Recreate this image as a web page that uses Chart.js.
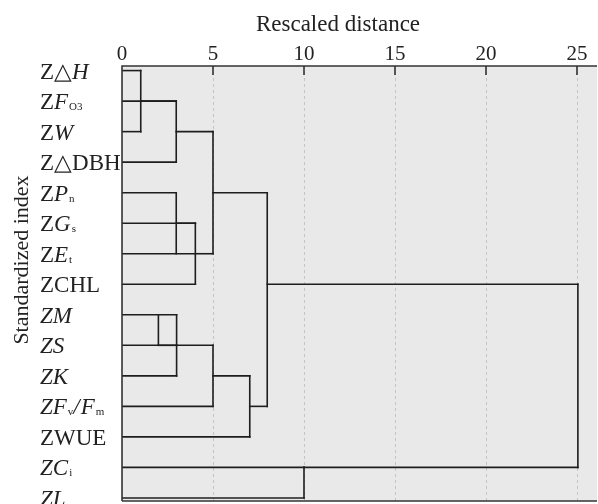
<!DOCTYPE html>
<html><head><meta charset="utf-8">
<script src="https://cdn.jsdelivr.net/npm/chart.js@4.4.0/dist/chart.umd.min.js"></script>
<style>html,body{margin:0;padding:0;background:#fff}#wrap{width:598px;height:504px;position:relative}</style>
</head><body><div id="wrap"><canvas id="c"></canvas></div>
<script>
// ---- data ----
const leafNames = ['ZΔH','ZFO3','ZW','ZΔDBH','ZPn','ZGs','ZEt','ZCHL','ZM','ZS','ZK','ZFv/Fm','ZWUE','ZCi','ZL'];
// distance at which each leaf's horizontal line ends (first join)
const leafEnd = [1.03, 2.98, 1.03, 2.98, 2.98, 4.03, 4.03, 4.03, 3.0, 3.0, 3.0, 5.0, 7.02, 10.0, 10.0];
// merges (rescaled distance of each join, rows spanned, row of outgoing stem, distance where stem joins parent)
const mergeHeight  = [1.03, 2.98, 2.98, 4.03, 5.0, 2.0, 3.0, 5.0, 7.02, 7.98, 10.0, 25.05];
const mergeTop     = [0, 1, 4, 5, 2, 8, 8, 9, 10, 4, 13, 7];
const mergeBottom  = [2, 3, 6, 7, 6, 9, 10, 11, 12, 11, 14, 13];
const mergeStemRow = [1, 2, 5, 6, 4, 9, 9, 10, 11, 7, 13, null];
const mergeStemTo  = [2.98, 5.0, 4.03, 5.0, 7.98, 3.0, 5.0, 7.02, 7.98, 25.05, 25.05, null];
const xTicks = [0, 5, 10, 15, 20, 25];
const xTitle = 'Rescaled distance';
const yTitle = 'Standardized index';
// rich-text label parts: r = regular, i = italic, s = subscript
const labelParts = [
  [['Z','r'],['△','r'],['H','i']],
  [['Z','r'],['F','i'],['O3','s']],
  [['Z','r'],['W','i']],
  [['Z△DBH','r']],
  [['Z','r'],['P','i'],['n','s']],
  [['Z','r'],['G','i'],['s','s']],
  [['Z','r'],['E','i'],['t','s']],
  [['ZCHL','r']],
  [['ZM','i']],
  [['ZS','i']],
  [['ZK','i']],
  [['ZF','i'],['v','s'],['/','i'],['F','i'],['m','s']],
  [['ZWUE','r']],
  [['ZC','i'],['i','s']],
  [['ZL','i']]
];

// ---- build datasets ----
const LINE = '#1e1e1e';
const LW = 1.6;
function seg(p1, p2){
  return {data:[p1,p2], showLine:true, borderColor:LINE, borderWidth:LW, pointRadius:0,
          pointHoverRadius:0, borderCapStyle:'square', fill:false, tension:0};
}
const datasets = [];
leafNames.forEach((n,i)=>{ datasets.push(seg({x:0,y:i},{x:leafEnd[i],y:i})); });
mergeHeight.forEach((h,k)=>{
  datasets.push(seg({x:h,y:mergeTop[k]},{x:h,y:mergeBottom[k]}));
  if (mergeStemRow[k] !== null) datasets.push(seg({x:h,y:mergeStemRow[k]},{x:mergeStemTo[k],y:mergeStemRow[k]}));
});

const SERIF = '"Liberation Serif", "Times New Roman", serif';
const LF = 23;
const deco = {
  id:'deco',
  beforeDraw(chart){
    const {ctx, chartArea:a} = chart;
    ctx.save(); ctx.fillStyle = '#e9e9e9';
    ctx.fillRect(a.left, a.top, a.right-a.left, a.bottom-a.top);
    const xs = chart.scales.x;
    ctx.strokeStyle = '#c4c4c4'; ctx.lineWidth = 1; ctx.setLineDash([3,3]);
    xTicks.forEach(v=>{ if (v===0) return; const px = Math.round(xs.getPixelForValue(v))+0.5;
      ctx.beginPath(); ctx.moveTo(px, a.top); ctx.lineTo(px, a.bottom); ctx.stroke(); });
    ctx.restore();
  },
  afterDraw(chart){
    const {ctx, chartArea:a} = chart;
    const xs = chart.scales.x, ys = chart.scales.y;
    ctx.save();
    ctx.strokeStyle = '#333'; ctx.lineWidth = 1.6; ctx.setLineDash([]);
    ctx.beginPath(); ctx.moveTo(a.left, a.bottom); ctx.lineTo(a.left, a.top); ctx.lineTo(a.right, a.top); ctx.stroke();
    ctx.beginPath(); ctx.moveTo(a.left, a.bottom); ctx.lineTo(a.right, a.bottom); ctx.stroke();
    xTicks.forEach(v=>{ if (v===0) return; const px = xs.getPixelForValue(v);
      ctx.beginPath(); ctx.moveTo(px, a.top); ctx.lineTo(px, a.top+9); ctx.stroke(); });
    ctx.fillStyle = '#222';
    ctx.font = LF + 'px ' + SERIF; ctx.textAlign = 'center'; ctx.textBaseline = 'middle';
    ctx.fillText(xTitle, 338, 25);
    ctx.font = '22px ' + SERIF;
    ctx.save(); ctx.translate(22, 260); ctx.rotate(-Math.PI/2); ctx.fillText(yTitle, 0, 0); ctx.restore();
    ctx.textAlign = 'left'; ctx.textBaseline = 'alphabetic';
    labelParts.forEach((parts, i)=>{
      const base = ys.getPixelForValue(i) + 8;
      let x = 40;
      parts.forEach(([t, st])=>{
        let yOff = 0;
        if (st === 'i') ctx.font = 'italic ' + LF + 'px ' + SERIF;
        else if (st === 's') { ctx.font = '11px ' + SERIF; yOff = 1; }
        else ctx.font = LF + 'px ' + SERIF;
        ctx.fillText(t, x, base + yOff);
        x += ctx.measureText(t).width + (st === 'i' ? 1 : 0);
      });
    });
    ctx.restore();
  }
};

new Chart(document.getElementById('c'), {
  type:'scatter',
  data:{datasets},
  options:{
    responsive:true, maintainAspectRatio:false, animation:false,
    layout:{padding:{top:0, left:0, right:1, bottom:3}},
    plugins:{legend:{display:false}, tooltip:{enabled:false}},
    scales:{
      x:{type:'linear', position:'top', min:0, max:26.1,
         grid:{display:false, drawTicks:false}, border:{display:false},
         ticks:{stepSize:5, includeBounds:false, color:'#222', padding:-1, font:{family:SERIF, size:21}},
         afterFit(s){ s.height = 66; }},
      y:{type:'linear', reverse:true, min:-0.15, max:14.1,
         grid:{display:false, drawTicks:false}, border:{display:false},
         ticks:{display:false},
         afterFit(s){ s.width = 122; }}
    }
  },
  plugins:[deco]
});
</script></body></html>
